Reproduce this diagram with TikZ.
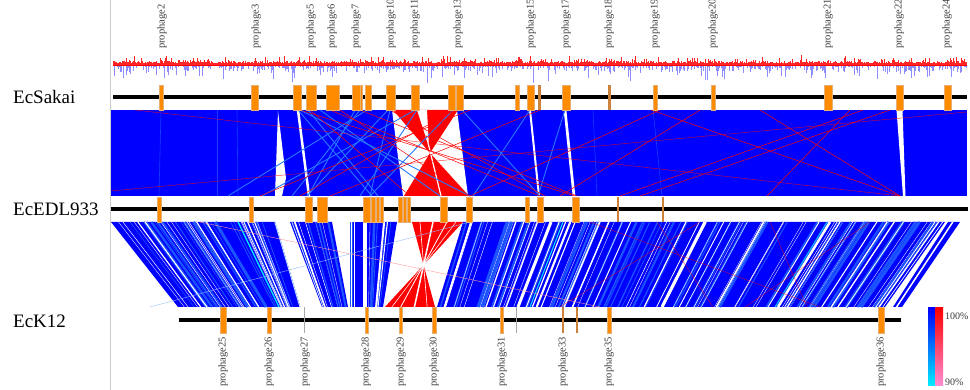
\documentclass[tikz,border=0pt]{standalone}
\usepackage{fontspec}
\setmainfont{Liberation Serif}
\definecolor{blu}{RGB}{0,0,255}
\definecolor{bluchiaro}{RGB}{40,120,255}
\definecolor{blumedio}{RGB}{20,60,255}
\definecolor{ciano}{RGB}{0,235,255}
\definecolor{rosso}{RGB}{255,0,0}
\definecolor{rosa}{RGB}{255,140,210}
\definecolor{arancio}{RGB}{255,140,0}
\definecolor{bordoarancio}{RGB}{230,175,120}
\definecolor{marrone}{RGB}{205,130,60}
\definecolor{bluskew}{RGB}{50,50,255}
\definecolor{testo}{RGB}{60,60,60}
\begin{document}
\begin{tikzpicture}[x=1pt, y=-1pt,
        traccia/.style={line width=4pt},
        profago/.style={fill=arancio, draw=bordoarancio, line width=0.4pt},
        sottile/.style={fill=marrone},
        linkblu/.style={bluchiaro, line width=0.9pt},
        linkrosso/.style={rosso, line width=0.5pt},
        etichetta/.style={rotate=90, inner sep=0pt, text=testo, font=\fontsize{10.5}{10.5}\selectfont},
        genoma/.style={anchor=west, inner sep=0pt, font=\fontsize{19}{19}\selectfont}]
    \useasboundingbox (0,0) rectangle (970,390);
    % linea a sinistra
    \draw[black!20, line width=0.8pt] (110.5,0) -- (110.5,390);
    % nomi dei genomi
    \node[genoma] (sakai) at (13,97) {EcSakai};
    \node[genoma] (edl) at (13,209) {EcEDL933};
    \node[genoma] (k12) at (13,321) {EcK12};

    % GC skew sopra EcSakai
    \pgfmathsetseed{7}
    \foreach \i in {113,...,966} {
        \pgfmathsetmacro\hr{1.5+2.5*rnd+6*pow(rnd,8)}
        \pgfmathsetmacro\hb{0.5+6*pow(rnd,3)+13*pow(rnd,10)}
        \draw[rosso, line width=0.8pt, opacity=0.85] (\i,65) -- ++(0,-\hr);
        \draw[bluskew, line width=0.8pt, opacity=0.55] (\i,65) -- ++(0,\hb);
    }
    \draw[rosso, line width=0.6pt] (113,65) -- (967,65);

    % blocco EcSakai - EcEDL933
    \fill[blu] (111,110) rectangle (967,196);
    \foreach \a/\b in {161/159, 217/217, 237/238, 593/597, 653/662}
        \draw[bluchiaro!50!blu, line width=0.6pt] (\a,110) -- (\b,196);
    \fill[white] (278,111) -- (286,178) -- (282,196) -- (275,196) -- cycle;
    \draw[white, line width=2.5pt] (298,110) -- (309,196);
    \draw[white, line width=2pt] (530,110) -- (539,196);
    \draw[white, line width=2.7pt] (565,110) -- (574,196);
    \fill[white] (896.5,110) -- (902.5,110) -- (905.5,196) -- (903,196) -- cycle;
    % inversione al centro
    \fill[white] (392,110) -- (457,110) -- (468,196) -- (403,196) -- cycle;
    \fill[rosso] (393,110) -- (458,110) -- (430,153) -- cycle;
    \fill[rosso] (430,153) -- (404,196) -- (469,196) -- cycle;
    \fill[white] (417,110) -- (427,110) -- (429,147) -- cycle;
    \draw[white, line width=1.2pt] (420,110) -- (441,196);
    \foreach \a/\b in {298/372, 308/378, 355/308, 360/292, 367/228, 388/307, 390/370, 417/360,
            415/262, 453/370, 462/540, 530/473, 565/538, 320/440, 300/470}
        \draw[linkblu] (\a,110) -- (\b,196);
    \foreach \a/\b in {300/575, 330/540, 360/577, 390/545, 310/410, 340/470, 455/300, 470/260,
            651/900, 760/900, 850/767, 890/640, 863/620, 700/560, 660/470, 540/330}
        \draw[linkrosso] (\a,110) -- (\b,196);
    \draw[linkrosso, opacity=0.7] (967,112) -- (111,191);
    \draw[linkrosso, opacity=0.7] (135,110) -- (900,196);

    % blocco EcEDL933 - EcK12
    \pgfmathsetseed{21}
    \foreach \ta/\tb/\ba/\bb/\n in {111/215/178/266/16, 215/275/266/300/9, 290/332/322/348/6,
            350/363/350/363/2, 367/397/367/383/4, 463/945/437/885/70, 948/960/893/902/1} {
        \fill[blu] (\ta,222) -- (\tb,222) -- (\bb,307) -- (\ba,307) -- cycle;
        \foreach \k in {1,...,\n} {
            \pgfmathsetmacro\uu{rnd}
            \pgfmathsetmacro\ww{0.5+3*rnd*rnd}
            \draw[blumedio!60!bluchiaro, line width=\ww pt] ({\ta+\uu*(\tb-\ta)},222) -- ({\ba+\uu*(\bb-\ba)},307);
            \pgfmathsetmacro\uu{rnd}
            \pgfmathsetmacro\ww{0.3+1.8*pow(rnd,3)}
            \draw[white, line width=\ww pt] ({\ta+\uu*(\tb-\ta)},222) -- ({\ba+\uu*(\bb-\ba)},307);
        }
    }
    \draw[white, line width=3pt] (551,222) -- (518,307);
    \draw[white, line width=3pt] (705,222) -- (662,307);
    \draw[white, line width=2.5pt] (830,222) -- (778,307);
    \draw[ciano, line width=1.2pt] (238,222) -- (279,307);
    \draw[ciano, line width=1pt] (563,222) -- (530,307);
    \draw[ciano!60!bluchiaro, line width=1pt] (827,222) -- (775,307);
    % inversione
    \fill[rosso] (412,222) -- (463,222) -- (423.6,265) -- cycle;
    \fill[rosso] (423.6,265) -- (385,307) -- (435,307) -- cycle;
    \foreach \t/\w in {420/0.6, 433/1.5, 447/0.8, 456/0.5}
        \draw[white, line width=\w pt] (\t,222) -- ({435-(\t-412)*0.98},307);
    \foreach \a/\b in {657/713, 770/807, 870/745, 590/820, 700/560}
        \draw[linkrosso, opacity=0.6] (\a,222) -- (\b,307);
    \draw[rosso!40, line width=0.4pt] (200,222) -- (600,307);
    \draw[bluchiaro!50, line width=0.4pt] (470,222) -- (150,307);

    % cromosomi
    \draw[traccia] (113,97) -- (967,97);
    \draw[traccia] (111,209) -- (968,209);
    \draw[traccia] (179,320) -- (901,320);

    % profagi EcSakai
    \foreach \a/\b in {159/163, 251/258, 293/301, 306/316, 326/339, 352/360, 360.5/362.5, 365/371,
            386/395, 411/419, 448/455, 456/463, 515/519, 527/534, 562/570, 653/657, 711/715,
            824/832, 896/903, 944/951}
        \draw[profago] (\a,85) rectangle (\b,110);
    \foreach \a/\b in {538/541, 608/610.5}
        \fill[sottile] (\a,85) rectangle (\b,110);
    % profagi EcEDL933
    \foreach \a/\b in {157/161, 249/253, 305/312, 317/327, 363/370, 371/375, 376/379, 380/383,
            398/402, 403/406, 407/410, 440/447, 466/472, 525/529, 537/543, 572/579}
        \draw[profago] (\a,197) rectangle (\b,222);
    \foreach \a/\b in {617/619, 662/664}
        \fill[sottile] (\a,197) rectangle (\b,222);
    % profagi EcK12
    \foreach \a/\b in {220/226, 267/271, 365/368, 399/402, 432/436, 500/503, 607/611, 878/884}
        \draw[profago] (\a,307) rectangle (\b,333);
    \foreach \a/\b in {562/564, 576/578}
        \fill[sottile] (\a,307) rectangle (\b,333);
    \foreach \a in {304.5, 516.5}
        \draw[black!35, line width=0.8pt] (\a,307) -- (\a,333);

    % etichette dei profagi
    \foreach \n/\x in {2/162, 3/256, 5/311, 6/332, 7/356, 10/391, 11/415, 13/458, 15/531, 17/566,
            18/609, 19/655, 20/713, 21/828, 22/899, 24/947}
        \node[etichetta, anchor=west] (p\n) at (\x,49) {prophage\n};
    \foreach \n/\x in {25/223, 26/269, 27/305, 28/366, 29/401, 30/434, 31/502, 33/563, 35/609, 36/881}
        \node[etichetta, anchor=east] (p\n) at (\x,337) {prophage\n};

    % legenda
    \shade[top color=blu, bottom color=ciano] (928,308) rectangle (935.5,385);
    \shade[top color=rosso, bottom color=rosa] (935.5,308) rectangle (943,385);
    \node[anchor=west, inner sep=0pt, text=testo, font=\fontsize{10}{10}\selectfont] (cento) at (945,316) {100\%};
    \node[anchor=west, inner sep=0pt, text=testo, font=\fontsize{10}{10}\selectfont] (novanta) at (945,382) {90\%};
\end{tikzpicture}
\end{document}
